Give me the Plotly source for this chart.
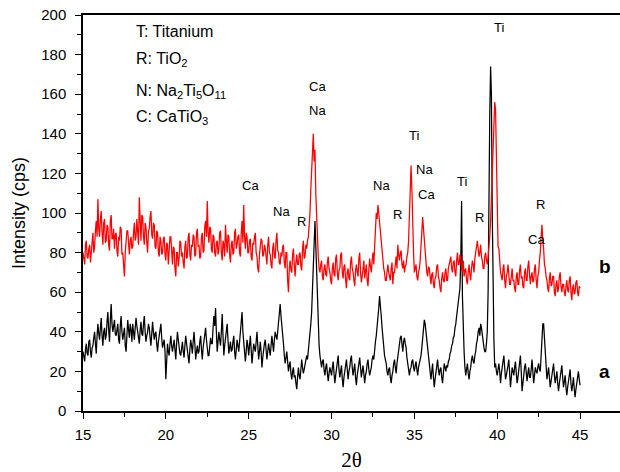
import numpy as np
import plotly.graph_objects as go

# Scan: 2-theta from 15.0 to 45.0 deg, step 0.05 deg (20 readings per degree)
two_theta_start = 15.0
two_theta_step = 0.05

# Sample b (upper pattern, red), intensity in cps, one row per degree
intensity_b = [
    80, 76, 74, 84, 86, 78, 77, 82, 84, 75, 79, 86, 90, 80, 83, 91, 96, 88, 107, 92,        # 15
    88, 97, 101, 90, 84, 95, 97, 85, 86, 94, 93, 84, 81, 96, 99, 87, 87, 92, 82, 89,        # 16
    90, 81, 78, 88, 86, 93, 92, 79, 80, 74, 68, 80, 84, 91, 91, 83, 79, 86, 88, 82,         # 17
    83, 90, 95, 86, 88, 97, 90, 84, 108, 92, 86, 99, 98, 88, 84, 95, 93, 85, 80, 91,        # 18
    92, 98, 101, 89, 87, 95, 94, 83, 82, 91, 90, 80, 78, 88, 86, 79, 80, 87, 88, 79,        # 19
    76, 85, 84, 74, 79, 88, 88, 77, 74, 83, 82, 72, 68, 80, 80, 73, 77, 86, 85, 78,         # 20
    80, 75, 72, 83, 86, 77, 78, 88, 90, 79, 76, 84, 83, 89, 88, 78, 79, 90, 92, 83,         # 21
    84, 77, 78, 88, 90, 80, 81, 93, 96, 88, 106, 90, 85, 93, 92, 82, 80, 89, 88, 80,        # 22
    78, 85, 86, 79, 82, 90, 91, 80, 76, 86, 84, 78, 94, 86, 80, 89, 88, 79, 75, 84,         # 23
    86, 79, 80, 90, 92, 82, 84, 88, 89, 80, 78, 90, 96, 85, 104, 88, 82, 90, 88, 80,        # 24
    80, 86, 87, 78, 76, 85, 84, 88, 90, 80, 78, 72, 70, 79, 82, 87, 86, 78, 79, 84,         # 25
    82, 76, 74, 84, 88, 80, 79, 74, 72, 82, 85, 78, 77, 86, 90, 81, 80, 75, 74, 80,         # 26
    78, 83, 84, 75, 72, 80, 80, 66, 60, 72, 76, 71, 70, 79, 82, 74, 68, 75, 79, 74,         # 27
    74, 79, 80, 73, 71, 82, 86, 77, 78, 84, 82, 86, 88, 94, 100, 112, 124, 134, 140, 126,   # 28
    132, 110, 96, 86, 78, 72, 70, 74, 76, 68, 66, 72, 74, 69, 68, 75, 78, 72, 70, 66,       # 29
    64, 72, 75, 69, 68, 77, 79, 70, 66, 71, 72, 79, 80, 70, 67, 73, 74, 66, 62, 70,         # 30
    72, 67, 66, 75, 78, 72, 70, 66, 63, 71, 74, 70, 68, 77, 80, 70, 65, 68, 71, 76,         # 31
    67, 72, 74, 66, 63, 71, 77, 73, 70, 76, 80, 74, 86, 95, 100, 97, 104, 100, 95, 90,      # 32
    84, 80, 76, 72, 70, 66, 66, 73, 74, 70, 68, 66, 72, 75, 64, 70, 70, 74, 78, 72,         # 33
    84, 79, 76, 80, 81, 74, 72, 76, 70, 73, 74, 78, 80, 86, 96, 106, 124, 112, 90, 80,      # 34
    70, 73, 74, 68, 66, 70, 72, 76, 82, 90, 98, 92, 86, 80, 74, 70, 68, 73, 72, 66,         # 35
    64, 69, 70, 64, 62, 67, 68, 73, 74, 68, 66, 62, 60, 67, 70, 66, 65, 70, 72, 66,         # 36
    66, 72, 74, 77, 78, 72, 70, 75, 76, 70, 68, 76, 80, 74, 74, 79, 78, 72, 70, 76,         # 37
    68, 71, 72, 66, 64, 70, 74, 69, 66, 72, 76, 74, 70, 77, 80, 84, 86, 82, 78, 80,         # 38
    84, 78, 76, 72, 72, 78, 80, 76, 74, 78, 82, 88, 96, 108, 130, 142, 150, 156, 152, 128,  # 39
    105, 83, 82, 72, 70, 68, 66, 72, 74, 66, 62, 68, 70, 74, 68, 64, 64, 70, 72, 66,        # 40
    66, 62, 60, 68, 70, 64, 64, 71, 74, 67, 68, 63, 62, 70, 72, 66, 66, 73, 76, 69,         # 41
    64, 68, 70, 65, 66, 72, 74, 66, 62, 68, 70, 76, 80, 88, 94, 86, 82, 74, 72, 68,         # 42
    66, 62, 60, 67, 70, 63, 64, 68, 68, 60, 58, 64, 66, 60, 62, 68, 70, 63, 60, 64,         # 43
    64, 60, 58, 63, 66, 61, 60, 66, 68, 60, 56, 62, 64, 59, 60, 65, 66, 60, 58, 63,         # 44
    62,                                                                                     # 45
]

# Sample a (lower pattern, black), intensity in cps
intensity_a = [
    30, 27, 25, 31, 34, 29, 28, 35, 36, 30, 27, 32, 33, 37, 40, 34, 29, 38, 44, 39,         # 15
    36, 42, 47, 38, 33, 40, 42, 36, 38, 45, 50, 41, 35, 46, 54, 44, 40, 43, 46, 39,         # 16
    38, 41, 44, 36, 34, 43, 48, 40, 36, 39, 42, 33, 30, 38, 46, 41, 37, 44, 41, 35,         # 17
    44, 40, 36, 42, 47, 43, 40, 36, 34, 41, 45, 39, 38, 44, 48, 40, 35, 38, 40, 44,         # 18
    42, 37, 33, 39, 45, 40, 36, 39, 40, 34, 30, 35, 38, 43, 44, 37, 32, 34, 36, 30,         # 19
    16, 25, 34, 30, 28, 34, 38, 33, 30, 33, 36, 31, 26, 34, 40, 36, 32, 29, 28, 32,         # 20
    35, 30, 27, 33, 38, 34, 30, 26, 24, 31, 36, 33, 29, 35, 40, 34, 26, 30, 33, 29,         # 21
    30, 35, 38, 31, 26, 32, 36, 40, 42, 36, 32, 28, 28, 33, 37, 34, 34, 42, 48, 43,         # 22
    52, 40, 30, 35, 40, 36, 33, 40, 49, 38, 28, 33, 38, 41, 44, 36, 29, 32, 35, 30,         # 23
    31, 35, 38, 30, 26, 31, 36, 33, 30, 35, 40, 46, 50, 40, 34, 30, 25, 30, 36, 33,         # 24
    28, 33, 38, 31, 24, 29, 34, 32, 30, 35, 40, 33, 26, 30, 35, 30, 22, 27, 32, 34,         # 25
    36, 31, 26, 30, 34, 31, 28, 33, 38, 34, 30, 36, 40, 38, 36, 40, 46, 50, 54, 48,         # 26
    44, 38, 34, 28, 24, 27, 30, 25, 20, 23, 25, 19, 16, 20, 22, 17, 18, 14, 11, 17,         # 27
    22, 18, 16, 21, 26, 22, 19, 21, 24, 26, 28, 26, 30, 34, 38, 44, 50, 62, 75, 86,         # 28
    96, 84, 70, 54, 40, 33, 28, 24, 22, 25, 26, 21, 18, 22, 24, 19, 15, 19, 22, 20,         # 29
    18, 22, 25, 19, 14, 18, 21, 25, 28, 21, 17, 20, 23, 16, 12, 17, 20, 24, 26, 21,         # 30
    16, 20, 22, 26, 28, 22, 18, 21, 24, 17, 13, 18, 21, 25, 27, 22, 17, 20, 23, 19,         # 31
    14, 18, 20, 24, 26, 21, 18, 20, 22, 26, 28, 26, 32, 35, 38, 42, 46, 52, 58, 54,         # 32
    48, 42, 36, 31, 28, 26, 24, 20, 18, 21, 22, 17, 14, 18, 20, 24, 26, 22, 19, 24,         # 33
    28, 32, 34, 37, 38, 33, 30, 35, 37, 34, 32, 27, 24, 20, 18, 21, 22, 25, 26, 22,         # 34
    20, 23, 25, 21, 18, 22, 24, 27, 28, 32, 36, 42, 46, 44, 40, 34, 30, 26, 22, 19,         # 35
    16, 20, 24, 17, 12, 16, 20, 24, 26, 21, 18, 21, 22, 17, 14, 19, 24, 22, 20, 23,         # 36
    22, 25, 26, 29, 30, 33, 34, 37, 38, 42, 44, 48, 52, 56, 58, 62, 76, 106, 58, 38,        # 37
    30, 22, 18, 21, 24, 19, 16, 20, 22, 26, 28, 25, 24, 28, 30, 34, 36, 40, 42, 38,         # 38
    44, 42, 38, 35, 32, 30, 30, 34, 40, 60, 120, 150, 174, 160, 100, 56, 36, 22, 24, 20,    # 39
    18, 21, 24, 20, 14, 19, 22, 25, 28, 22, 16, 18, 20, 23, 26, 19, 12, 17, 22, 20,         # 40
    18, 22, 25, 19, 14, 17, 21, 24, 28, 20, 10, 14, 19, 22, 24, 18, 15, 19, 22, 17,         # 41
    17, 21, 26, 20, 14, 18, 22, 20, 19, 22, 24, 21, 20, 28, 42, 44, 44, 36, 30, 22,         # 42
    16, 19, 22, 17, 12, 15, 19, 23, 24, 18, 14, 17, 20, 14, 10, 14, 18, 21, 23, 17,         # 43
    12, 15, 18, 12, 8, 12, 16, 19, 21, 14, 10, 13, 17, 11, 7, 11, 15, 18, 20, 16,           # 44
    13,                                                                                     # 45
]

two_theta_a = two_theta_start + two_theta_step * np.arange(len(intensity_a))
two_theta_b = two_theta_start + two_theta_step * np.arange(len(intensity_b))

# Phase labels placed above the reflections: (text, 2theta, intensity)
peak_labels = [
    ("Ca", 25.08, 114), ("Na", 26.95, 101), ("R", 28.2, 95.5),
    ("Ca", 29.18, 164), ("Na", 29.18, 152),
    ("Na", 33.04, 114), ("R", 34.0, 99), ("Ti", 34.98, 139),
    ("Na", 35.64, 122), ("Ca", 35.76, 109.5),
    ("Ti", 37.87, 116), ("R", 38.96, 97.5), ("Ti", 40.1, 193.5),
    ("R", 42.64, 104.5), ("Ca", 42.34, 86.5),
]

# Phase key in the upper-left corner
phase_key = [
    "T: Titanium",
    "R: TiO<sub>2</sub>",
    "N: Na<sub>2</sub>Ti<sub>5</sub>O<sub>11</sub>",
    "C: CaTiO<sub>3</sub>",
]
phase_key_y = [191.5, 177.5, 161.5, 148]

# Sample tags at the right-hand end of each pattern
sample_tags = [("b", 73), ("a", 20)]

sans = "Liberation Sans, Arial, sans-serif"

fig = go.Figure()
fig.add_trace(go.Scatter(x=two_theta_a, y=intensity_a, mode="lines",
                         line=dict(color="#000000", width=1.25),
                         showlegend=False, hoverinfo="skip"))
fig.add_trace(go.Scatter(x=two_theta_b, y=intensity_b, mode="lines",
                         line=dict(color="#ff0000", width=1.25),
                         showlegend=False, hoverinfo="skip"))

annotations = []
for text, x, y in peak_labels:
    annotations.append(dict(x=x, y=y, text=text, showarrow=False,
                            xanchor="center", yanchor="middle",
                            font=dict(family=sans, size=13, color="#000")))
for text, y in zip(phase_key, phase_key_y):
    annotations.append(dict(x=18.08, y=y, text=text, showarrow=False,
                            xanchor="left", yanchor="middle",
                            font=dict(family=sans, size=16, color="#000")))
for text, y in sample_tags:
    annotations.append(dict(x=46.5, y=y, text="<b>%s</b>" % text,
                            showarrow=False, xanchor="center",
                            yanchor="middle",
                            font=dict(family=sans, size=19, color="#000")))

fig.update_layout(
    width=620, height=472,
    margin=dict(l=83, r=0, t=15, b=61),
    paper_bgcolor="white", plot_bgcolor="white",
    font=dict(family=sans, size=15, color="#000"),
    annotations=annotations,
    xaxis=dict(
        range=[15, 47.41], tickmode="linear", tick0=15, dtick=5,
        ticks="outside", ticklen=6, tickwidth=1.3, tickcolor="#000",
        ticklabelstandoff=3,
        minor=dict(tickmode="linear", tick0=15, dtick=2.5, ticks="outside",
                   ticklen=4, tickwidth=1.3, tickcolor="#000"),
        showline=True, linecolor="#000", linewidth=1.5, mirror=True,
        showgrid=False, zeroline=False,
        tickfont=dict(family=sans, size=15),
        title=dict(text="2θ", standoff=13,
                   font=dict(family="Liberation Serif, Times New Roman, serif",
                             size=21)),
    ),
    yaxis=dict(
        range=[0, 200], tickmode="linear", tick0=0, dtick=20,
        ticks="outside", ticklen=6, tickwidth=1.3, tickcolor="#000",
        ticklabelstandoff=6,
        minor=dict(tickmode="linear", tick0=0, dtick=10, ticks="outside",
                   ticklen=4, tickwidth=1.3, tickcolor="#000"),
        showline=True, linecolor="#000", linewidth=1.5, mirror=False,
        showgrid=False, zeroline=False,
        tickfont=dict(family=sans, size=15),
        title=dict(text="Intensity (cps)", standoff=11,
                   font=dict(family=sans, size=18)),
    ),
)

fig.write_html("out.html")
